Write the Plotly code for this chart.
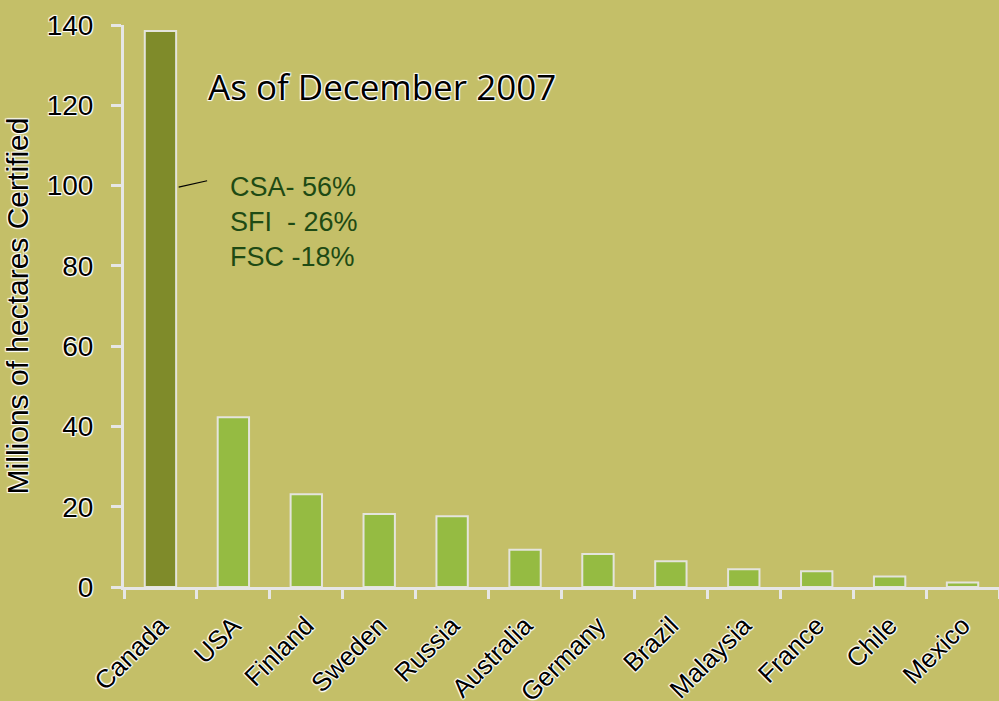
import plotly.graph_objects as go

countries = ["Canada", "USA", "Finland", "Sweden", "Russia", "Australia",
             "Germany", "Brazil", "Malaysia", "France", "Chile", "Mexico"]
hectares = [138.5, 42.3, 23.1, 18.2, 17.6, 9.3, 8.2, 6.4, 4.4, 3.9, 2.6, 1.1]
bar_colors = ["#7F8B2A"] + ["#95BB42"] * 11
y_ticks = [0, 20, 40, 60, 80, 100, 120, 140]
note_lines = ["CSA- 56%", "SFI  - 26%", "FSC -18%"]
title_text = "As of December 2007"
y_title = "Millions of hectares Certified"

BG = "#C4BF68"
halo = "1px 1px 1px #ffffff, -1px -1px 1px #ffffff, 1px -1px 1px #ffffff, -1px 1px 1px #ffffff"

fig = go.Figure()
fig.add_trace(go.Bar(
    x=countries, y=hectares,
    marker=dict(color=bar_colors, line=dict(color="#E4E4DC", width=2)),
    width=0.43,
))

fig.update_layout(
    width=999, height=701,
    paper_bgcolor=BG, plot_bgcolor=BG,
    margin=dict(l=124, r=0, t=25, b=114),
    showlegend=False,
    font=dict(family="Liberation Sans, Arial, sans-serif", color="black"),
    xaxis=dict(
        type="category", range=[-0.5, 11.5], automargin=False,
        showline=True, linecolor="#E6E6E6", linewidth=3,
        ticks="outside", tickson="boundaries", ticklen=9, tickwidth=3, tickcolor="#E6E6E6",
        tickangle=-45, tickfont=dict(size=26, color="black", shadow=halo),
        ticklabelstandoff=10,
        showgrid=False, zeroline=False,
    ),
    yaxis=dict(
        range=[0, 140], tickvals=y_ticks, automargin=False,
        showline=True, linecolor="#E6E6E6", linewidth=3,
        ticks="outside", ticklen=10, tickwidth=3, tickcolor="#E6E6E6",
        tickfont=dict(size=28, color="black", shadow=halo),
        ticklabelstandoff=12,
        showgrid=False, zeroline=False,
        title=dict(text=y_title, font=dict(size=30, color="black", shadow=halo), standoff=10),
    ),
)

fig.add_annotation(
    xref="paper", yref="paper", x=(206 - 124) / 875, y=(587 - 87) / 562,
    xanchor="left", yanchor="middle", showarrow=False,
    text=title_text, font=dict(size=35, color="black", shadow=halo,
                               family="Open Sans, Liberation Sans, sans-serif"),
)

fig.add_annotation(
    xref="x", yref="y", x=0.93, y=91,
    xanchor="left", yanchor="middle", showarrow=False, align="left",
    text="<br>".join(note_lines),
    font=dict(size=27, color="#1E4A14"),
)

fig.add_shape(type="line", xref="x", yref="y", x0=0.25, y0=99.6, x1=0.64, y1=101.2,
              line=dict(color="black", width=1.2))

fig.write_html("out.html")
